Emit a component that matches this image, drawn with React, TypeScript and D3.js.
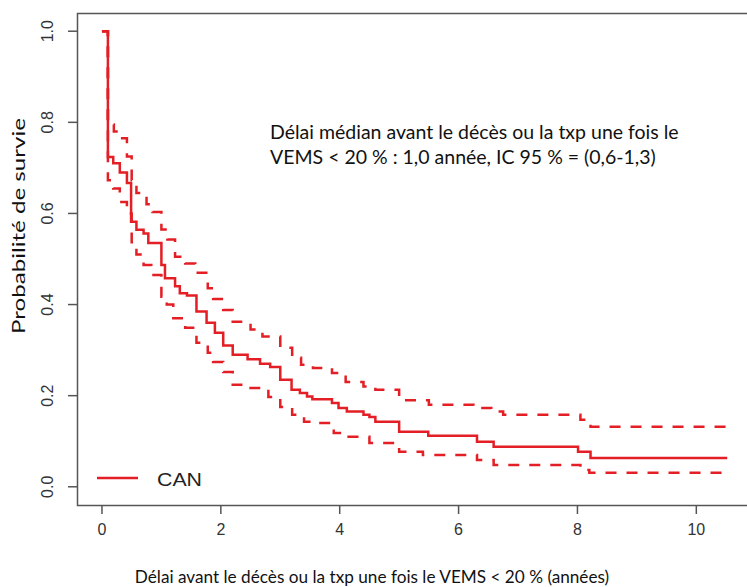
import React, { useEffect, useRef } from 'react';
import * as d3 from 'd3';

// Kaplan-Meier estimate: [time (years), survival after the step]
const survie: [number, number][] = [
  [0, 1.0], [0.1, 0.724], [0.19, 0.71], [0.3, 0.69], [0.42, 0.667], [0.49, 0.582],
  [0.58, 0.564], [0.7, 0.556], [0.78, 0.535], [1.0, 0.487], [1.06, 0.458],
  [1.23, 0.44], [1.31, 0.425], [1.43, 0.42], [1.59, 0.385], [1.76, 0.36],
  [1.9, 0.338], [2.04, 0.31], [2.2, 0.29], [2.45, 0.28], [2.66, 0.27],
  [2.83, 0.263], [3.0, 0.235], [3.19, 0.213], [3.33, 0.206], [3.45, 0.198],
  [3.54, 0.192], [3.87, 0.184], [3.98, 0.173], [4.12, 0.165], [4.4, 0.158],
  [4.5, 0.153], [4.6, 0.143], [5.0, 0.121], [5.49, 0.112], [6.31, 0.099],
  [6.59, 0.088], [8.01, 0.077], [8.22, 0.063], [10.52, 0.063],
];

// upper 95% confidence bound
const icHaut: [number, number][] = [
  [0, 1.0], [0.1, 0.795], [0.2, 0.78], [0.27, 0.765], [0.42, 0.725], [0.5, 0.673],
  [0.58, 0.645], [0.75, 0.62], [0.85, 0.603], [1.0, 0.565], [1.1, 0.543],
  [1.23, 0.505], [1.4, 0.49], [1.57, 0.47], [1.78, 0.436], [1.87, 0.412],
  [2.04, 0.388], [2.2, 0.362], [2.5, 0.345], [2.7, 0.33], [3.0, 0.305],
  [3.2, 0.283], [3.35, 0.268], [3.55, 0.261], [3.87, 0.25], [4.1, 0.23],
  [4.4, 0.22], [4.6, 0.213], [5.0, 0.19], [5.5, 0.18], [6.25, 0.173],
  [6.55, 0.165], [6.75, 0.158], [8.05, 0.147], [8.22, 0.132], [10.52, 0.132],
];

// lower 95% confidence bound
const icBas: [number, number][] = [
  [0, 1.0], [0.1, 0.673], [0.19, 0.655], [0.3, 0.625], [0.42, 0.6], [0.5, 0.537],
  [0.58, 0.51], [0.7, 0.487], [0.83, 0.465], [1.0, 0.417], [1.09, 0.4],
  [1.2, 0.37], [1.4, 0.349], [1.59, 0.316], [1.78, 0.294], [1.87, 0.274],
  [2.04, 0.252], [2.2, 0.224], [2.5, 0.217], [2.8, 0.197], [3.0, 0.175],
  [3.2, 0.158], [3.4, 0.143], [3.55, 0.14], [3.9, 0.118], [4.15, 0.11],
  [4.5, 0.096], [5.0, 0.077], [5.4, 0.07], [6.31, 0.059], [6.59, 0.048],
  [8.05, 0.037], [8.2, 0.031], [10.52, 0.031],
];

const xTicks = [0, 2, 4, 6, 8, 10];
const yTicks = [0, 0.2, 0.4, 0.6, 0.8, 1.0];

const annotation = [
  'Délai médian avant le décès ou la txp une fois le',
  'VEMS < 20 % : 1,0 année, IC 95 % = (0,6-1,3)',
];
const xTitle = 'Délai avant le décès ou la txp une fois le VEMS < 20 % (années)';
const yTitle = 'Probabilité de survie';
const legendLabel = 'CAN';

const RED = '#e31e24';

const App = () => {
  const ref = useRef<SVGSVGElement>(null);

  useEffect(() => {
    const svg = d3.select(ref.current);
    svg.selectAll('*').remove();

    // R style: 4% padding around data range [0, 10.5] x [0, 1]
    const x = d3.scaleLinear().domain([-0.42, 10.92]).range([77, 751]);
    const y = d3.scaleLinear().domain([-0.04, 1.04]).range([505, 13]);

    const line = d3.line<[number, number]>()
      .x(d => x(d[0]))
      .y(d => y(d[1]))
      .curve(d3.curveStepAfter);

    // box
    svg.append('rect')
      .attr('x', 77.5).attr('y', 13.5)
      .attr('width', 751 - 77).attr('height', 505 - 13)
      .attr('fill', 'none').attr('stroke', '#555').attr('stroke-width', 1.5);

    // y axis ticks
    const ya = svg.append('g');
    ya.selectAll('line').data(yTicks).enter().append('line')
      .attr('x1', 68).attr('x2', 77.5)
      .attr('y1', d => y(d)).attr('y2', d => y(d))
      .attr('stroke', '#555').attr('stroke-width', 1.5);
    ya.selectAll('text').data(yTicks).enter().append('text')
      .attr('transform', d => `translate(53, ${y(d)}) rotate(-90)`)
      .attr('text-anchor', 'middle')
      .style('font-family', '"Liberation Sans", Arial, sans-serif')
      .style('font-size', '16px')
      .attr('fill', '#333')
      .text(d => d.toFixed(1));

    // x axis ticks
    const xa = svg.append('g');
    xa.selectAll('line').data(xTicks).enter().append('line')
      .attr('x1', d => x(d)).attr('x2', d => x(d))
      .attr('y1', 505).attr('y2', 514)
      .attr('stroke', '#555').attr('stroke-width', 1.5);
    xa.selectAll('text').data(xTicks).enter().append('text')
      .attr('x', d => x(d)).attr('y', 535)
      .attr('text-anchor', 'middle')
      .style('font-family', '"Liberation Sans", Arial, sans-serif')
      .style('font-size', '16px')
      .attr('fill', '#333')
      .text(d => String(d));

    // confidence bounds, then the estimate
    [icHaut, icBas].forEach(ic => {
      svg.append('path')
        .attr('d', line(ic))
        .attr('fill', 'none')
        .attr('stroke', RED)
        .attr('stroke-width', 2.5)
        .attr('stroke-dasharray', '11 10');
    });
    svg.append('path')
      .attr('d', line(survie))
      .attr('fill', 'none')
      .attr('stroke', RED)
      .attr('stroke-width', 2.5);

    // legend
    svg.append('line')
      .attr('x1', 97).attr('x2', 138).attr('y1', 478).attr('y2', 478)
      .attr('stroke', RED).attr('stroke-width', 2.5);
    svg.append('text')
      .attr('x', 157).attr('y', 486)
      .attr('textLength', 45)
      .attr('lengthAdjust', 'spacingAndGlyphs')
      .style('font-family', '"Liberation Sans", Arial, sans-serif')
      .style('font-size', '18.5px')
      .attr('fill', '#222')
      .text(legendLabel);

    // annotation
    svg.append('g').selectAll('text').data(annotation).enter().append('text')
      .attr('x', 270).attr('y', (d, i) => 139 + i * 25)
      .style('font-family', 'Lato, sans-serif')
      .style('font-size', '19.5px')
      .attr('fill', '#111')
      .text(d => d);

    // axis titles
    svg.append('text')
      .attr('x', 372).attr('y', 583)
      .attr('text-anchor', 'middle')
      .style('font-family', 'Lato, sans-serif')
      .style('font-size', '17.2px')
      .attr('fill', '#111')
      .text(xTitle);
    svg.append('text')
      .attr('transform', 'translate(25, 226) rotate(-90)')
      .attr('text-anchor', 'middle')
      .attr('textLength', 216)
      .attr('lengthAdjust', 'spacingAndGlyphs')
      .style('font-family', 'Lato, sans-serif')
      .style('font-size', '17.5px')
      .attr('fill', '#111')
      .text(yTitle);
  }, []);

  return (
    <svg
      ref={ref}
      width={747}
      height={587}
      style={{ position: 'absolute', left: 0, top: 0, background: '#fff' }}
    />
  );
};

export default App;
